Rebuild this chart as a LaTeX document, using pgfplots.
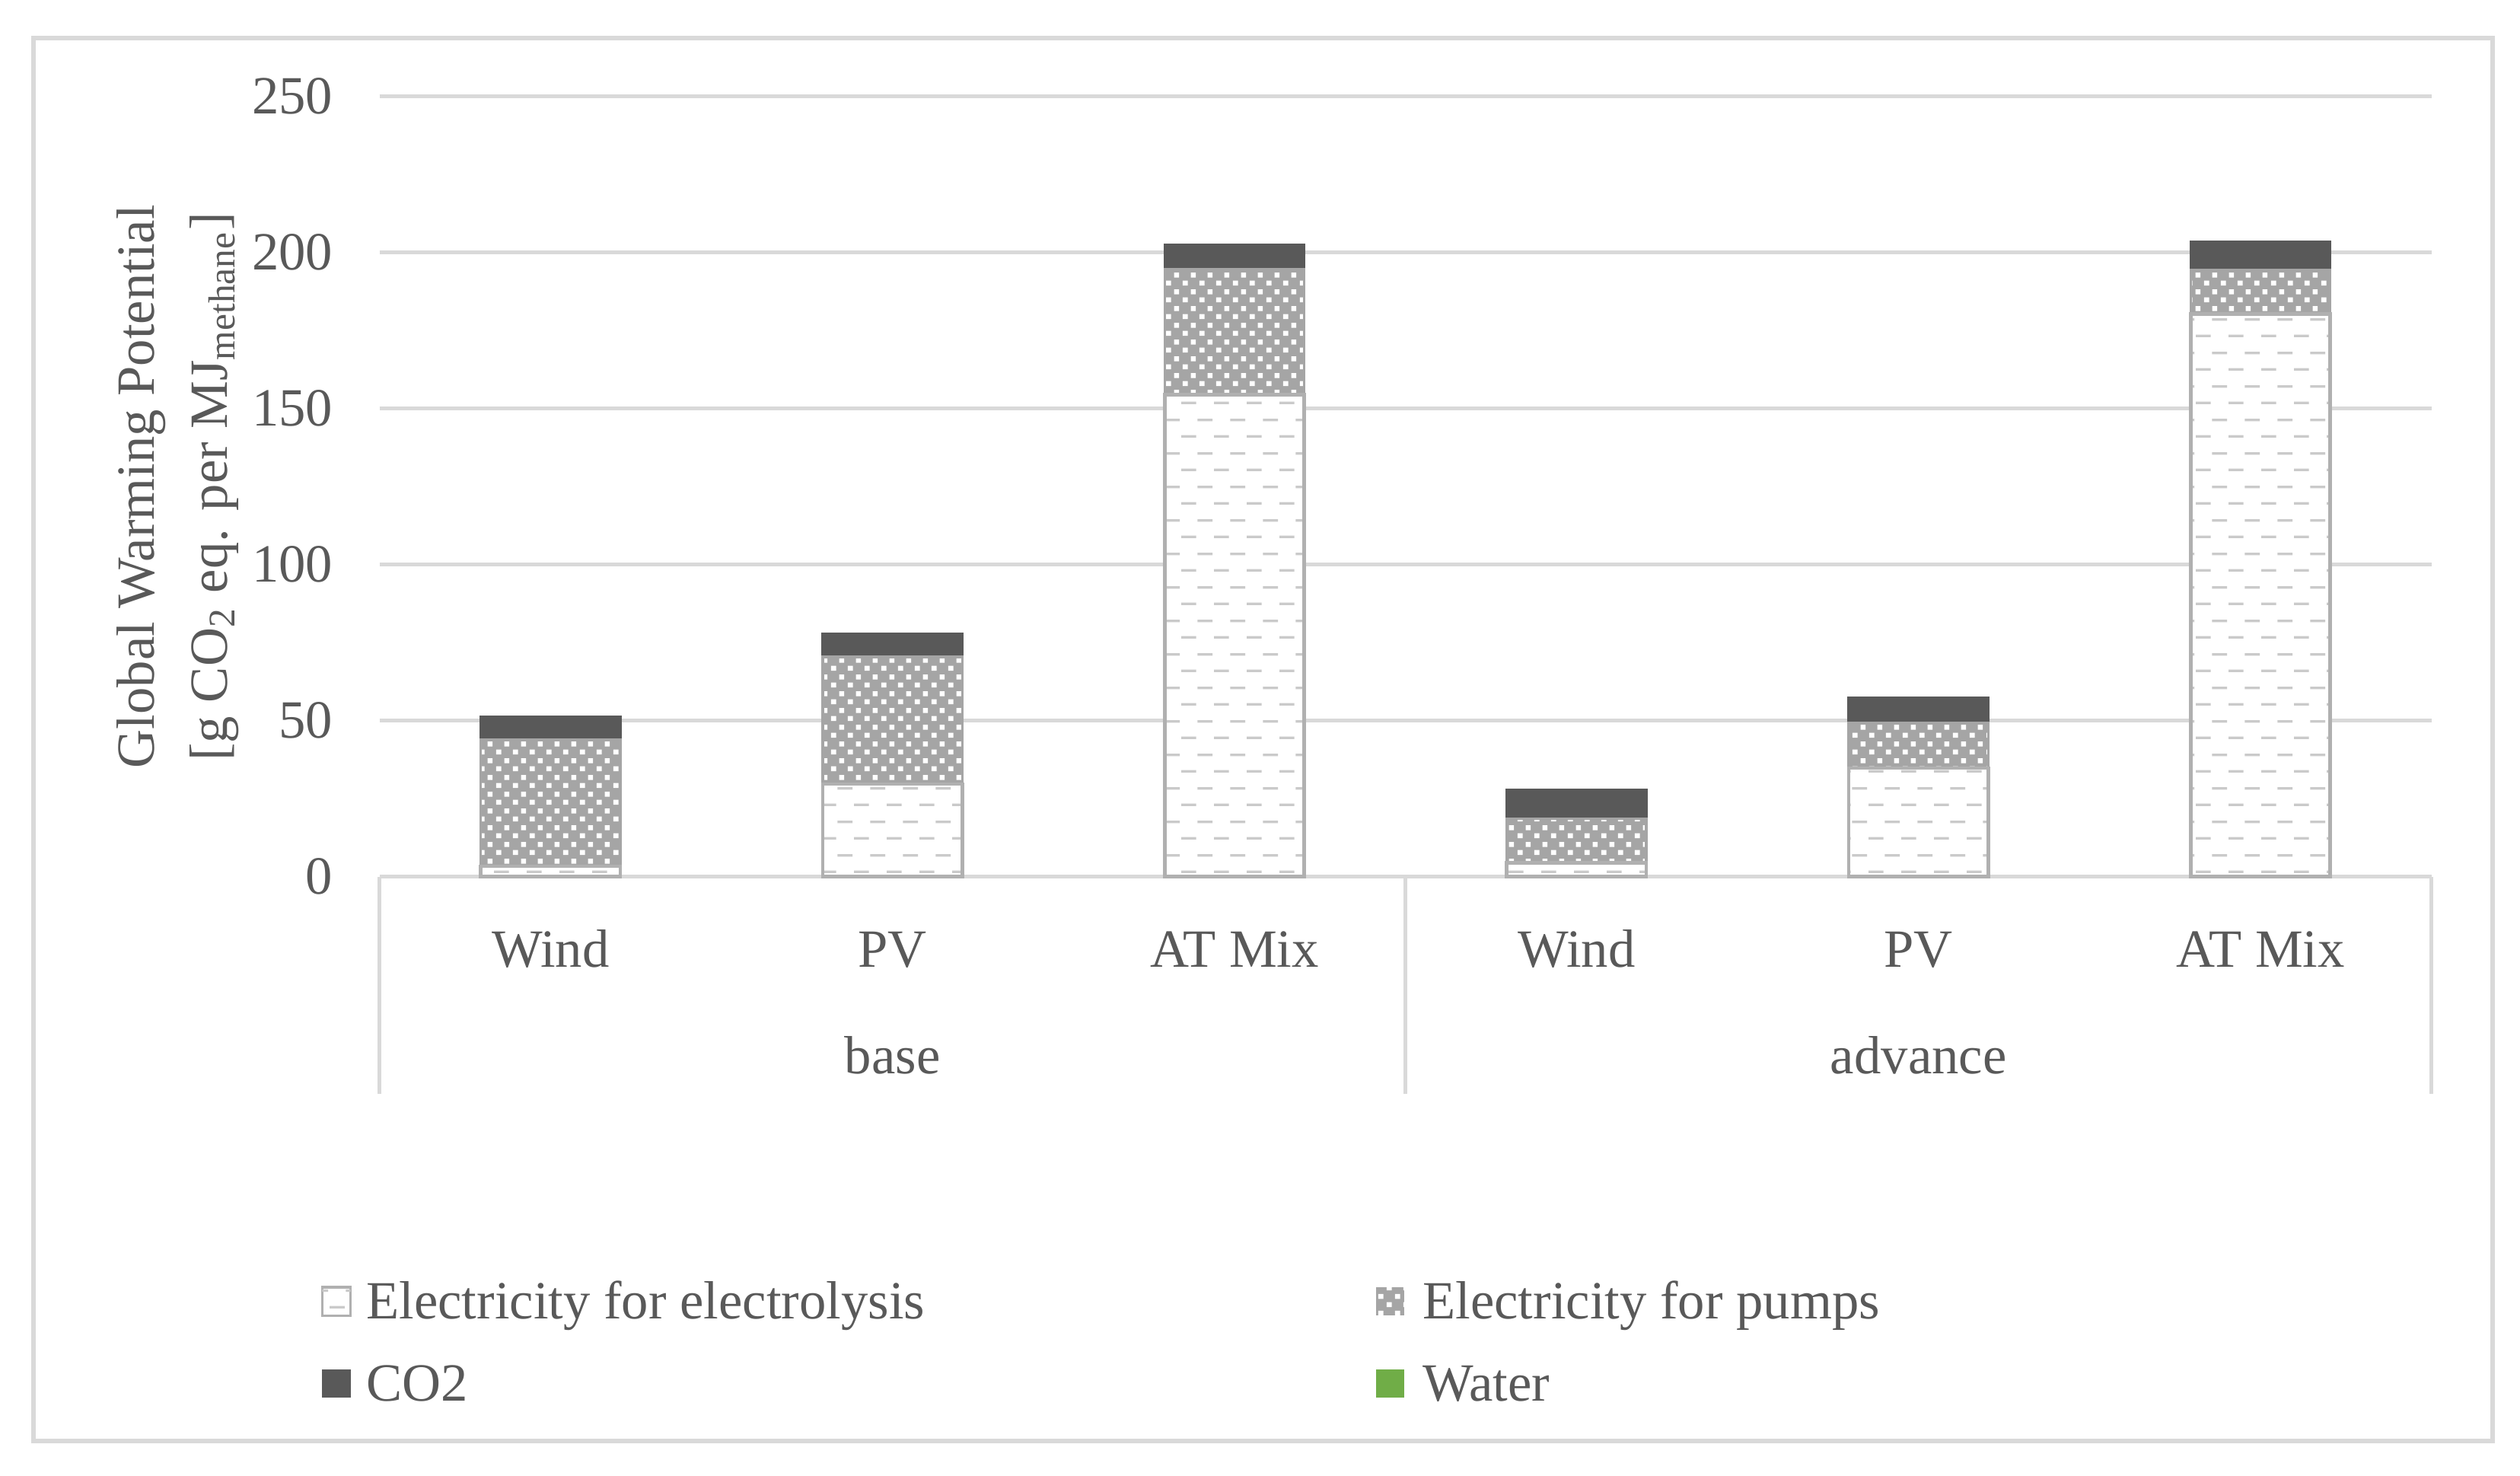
\documentclass[border=0pt]{standalone}
\usepackage{fontspec}
\setmainfont{Liberation Serif}
\usepackage{pgfplots}
\pgfplotsset{compat=1.18}
\usetikzlibrary{patterns}

\definecolor{textgray}{HTML}{595959}
\definecolor{gridgray}{HTML}{D9D9D9}
\definecolor{pumpgray}{HTML}{A5A5A5}
\definecolor{cotwo}{HTML}{595959}
\definecolor{dashgray}{HTML}{CACACA}
\definecolor{barline}{HTML}{B0B0B0}
\definecolor{water}{HTML}{70AD47}

% light dashes for electrolysis, white dots for pumps
\pgfdeclarepatternformonly{hdash}{\pgfqpoint{0pt}{0pt}}{\pgfqpoint{6.5pt}{6.6pt}}{\pgfqpoint{6.5pt}{6.6pt}}{%
  \pgfpathrectangle{\pgfqpoint{0pt}{0pt}}{\pgfqpoint{3pt}{0.5pt}}%
  \pgfpathrectangle{\pgfqpoint{3.25pt}{3.3pt}}{\pgfqpoint{3pt}{0.5pt}}%
  \pgfusepath{fill}}
\pgfdeclarepatternformonly{wdots}{\pgfqpoint{0pt}{0pt}}{\pgfqpoint{3.25pt}{3.3pt}}{\pgfqpoint{3.25pt}{3.3pt}}{%
  \pgfpathrectangle{\pgfqpoint{0.3pt}{0.3pt}}{\pgfqpoint{1pt}{1pt}}%
  \pgfpathrectangle{\pgfqpoint{1.925pt}{1.95pt}}{\pgfqpoint{1pt}{1pt}}%
  \pgfusepath{fill}}

\begin{document}
\begin{tikzpicture}[font=\fontsize{10.6}{12.7}\selectfont]
\path[use as bounding box] (0,0) rectangle (496.65pt,290.85pt);
\draw[gridgray, line width=1pt] (6.6pt,6.9pt) rectangle (491.25pt,283.35pt);

\begin{axis}[
  at={(74.8pt,118.1pt)}, anchor=south west,
  scale only axis, width=404.4pt, height=153.75pt,
  ybar stacked, bar width=27.5pt,
  xmin=-0.5, xmax=5.5, ymin=0, ymax=250,
  xtick={0,1,2,3,4,5},
  xticklabels={Wind,PV,AT Mix,Wind,PV,AT Mix},
  ytick={0,50,100,150,200,250},
  ymajorgrids, grid style={line width=0.75pt, gridgray},
  axis line style={draw=none},
  major tick length=0pt,
  /pgf/number format/assume math mode=true,
  tick label style={text=textgray},
  xticklabel style={anchor=base, yshift=-17.8pt},
  yticklabel style={anchor=east, xshift=-5.7pt},
  ylabel={Global Warming Potential\\[1.7pt][g CO\textsubscript{2} eq. per MJ\textsubscript{methane}]},
  ylabel style={at={(axis description cs:-0.0985,0.5)}, anchor=center, align=center, text=textgray},
  clip=false,
]
\addplot[fill=white, draw=barline, line width=0.7pt,
  postaction={pattern=hdash, pattern color=dashgray}] coordinates {
(0,3.3) (1,29.7) (2,154.4) (3,4.5) (4,34.8) (5,180.3)
};
\addplot[fill=pumpgray, draw=pumpgray, line width=0.5pt,
  postaction={pattern=wdots, pattern color=white}] coordinates {
(0,40.6) (1,40.7) (2,40.3) (3,14.1) (4,14.5) (5,14.2)
};
\addplot[fill=cotwo, draw=cotwo, line width=0.5pt] coordinates {
(0,7.3) (1,7.3) (2,7.7) (3,9.2) (4,8.1) (5,8.9)
};

\draw[gridgray, line width=0.75pt] (axis cs:-0.5,0) -- ++(0pt,-42.8pt);
\draw[gridgray, line width=0.75pt] (axis cs:2.5,0) -- ++(0pt,-42.8pt);
\draw[gridgray, line width=0.75pt] (axis cs:5.5,0) -- ++(0pt,-42.8pt);
\node[anchor=base, yshift=-38.8pt, text=textgray] at (axis cs:1,0) {base};
\node[anchor=base, yshift=-38.8pt, text=textgray] at (axis cs:4,0) {advance};
\end{axis}

% legend
\path[fill=white, draw=barline, line width=0.5pt, postaction={pattern=hdash, pattern color=dashgray}]
  (63.5pt,31.6pt) rectangle ++(5.6pt,5.6pt);
\node[anchor=base west, inner sep=0pt, text=textgray] at (72.0pt,30.95pt) {Electricity for electrolysis};
\path[fill=pumpgray, postaction={pattern=wdots, pattern color=white}]
  (271.2pt,31.6pt) rectangle ++(5.6pt,5.6pt);
\node[anchor=base west, inner sep=0pt, text=textgray] at (280.2pt,30.95pt) {Electricity for pumps};
\fill[cotwo] (63.5pt,15.4pt) rectangle ++(5.6pt,5.6pt);
\node[anchor=base west, inner sep=0pt, text=textgray] at (72.0pt,14.7pt) {CO2};
\fill[water] (271.2pt,15.4pt) rectangle ++(5.6pt,5.6pt);
\node[anchor=base west, inner sep=0pt, text=textgray] at (280.2pt,14.7pt) {Water};
\end{tikzpicture}
\end{document}
